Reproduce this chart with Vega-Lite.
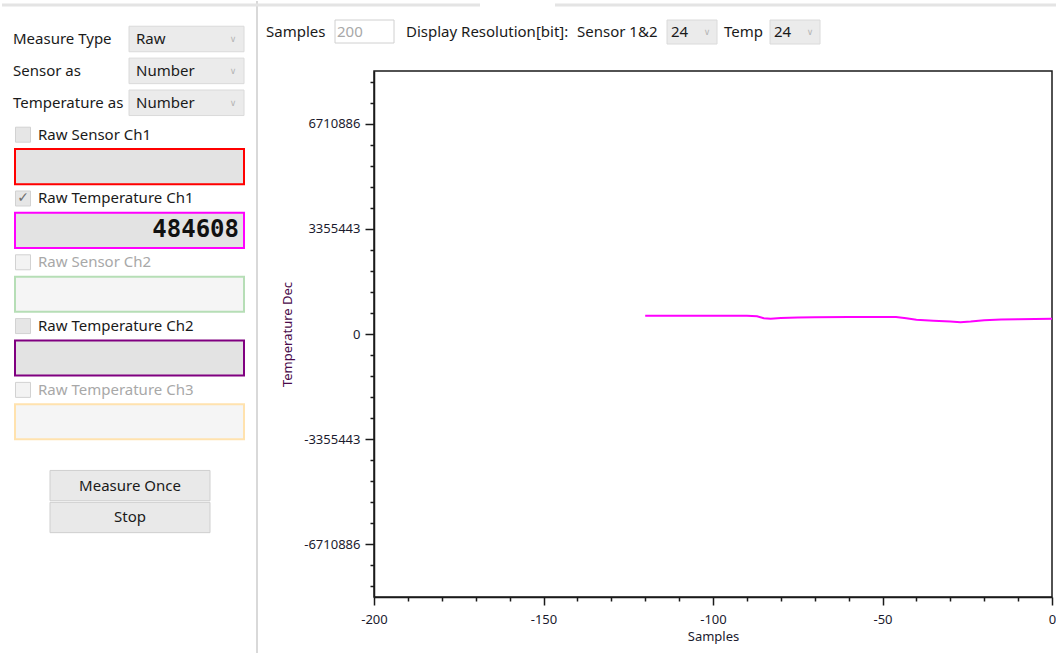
{
  "$schema": "https://vega.github.io/schema/vega-lite/v6.json",
  "background": "white",
  "padding": 0,
  "bounds": "flush",
  "spacing": 116,
  "config": {"view": {"stroke": null}, "font": "Noto Sans"},
  "datasets": {
    "widgets": [
      {"item": "r01", "kind": "select", "label": "Measure Type", "value": "Raw"},
      {"item": "r02", "kind": "select", "label": "Sensor as", "value": "Number"},
      {"item": "r03", "kind": "select", "label": "Temperature as", "value": "Number"},
      {"item": "r04", "kind": "check", "label": "Raw Sensor Ch1", "state": "enabled", "checked": false},
      {"item": "r05", "kind": "field", "channel": "Raw Sensor Ch1", "state": "enabled", "value": ""},
      {"item": "r06", "kind": "check", "label": "Raw Temperature Ch1", "state": "enabled", "checked": true},
      {"item": "r07", "kind": "field", "channel": "Raw Temperature Ch1", "state": "enabled", "value": "484608"},
      {"item": "r08", "kind": "check", "label": "Raw Sensor Ch2", "state": "disabled", "checked": false},
      {"item": "r09", "kind": "field", "channel": "Raw Sensor Ch2", "state": "disabled", "value": ""},
      {"item": "r10", "kind": "check", "label": "Raw Temperature Ch2", "state": "enabled", "checked": false},
      {"item": "r11", "kind": "field", "channel": "Raw Temperature Ch2", "state": "enabled", "value": ""},
      {"item": "r12", "kind": "check", "label": "Raw Temperature Ch3", "state": "disabled", "checked": false},
      {"item": "r13", "kind": "field", "channel": "Raw Temperature Ch3", "state": "disabled", "value": ""},
      {"item": "r15", "kind": "button", "label": "Measure Once"},
      {"item": "r16", "kind": "button", "label": "Stop"}
    ],
    "topbar": [
      {"name": "Samples", "setting": "200"},
      {"name": "Display Resolution[bit]:", "setting": ""},
      {"name": "Sensor 1&2", "setting": "24"},
      {"name": "Temp", "setting": "24"}
    ],
    "series": [
      {"sample": -120, "value": 580000},
      {"sample": -90, "value": 580000},
      {"sample": -87, "value": 565000},
      {"sample": -85, "value": 500000},
      {"sample": -83, "value": 485000},
      {"sample": -80, "value": 510000},
      {"sample": -75, "value": 530000},
      {"sample": -70, "value": 535000},
      {"sample": -60, "value": 540000},
      {"sample": -50, "value": 545000},
      {"sample": -46, "value": 545000},
      {"sample": -43, "value": 505000},
      {"sample": -40, "value": 455000},
      {"sample": -35, "value": 425000},
      {"sample": -30, "value": 400000},
      {"sample": -27, "value": 376000},
      {"sample": -24, "value": 395000},
      {"sample": -20, "value": 440000},
      {"sample": -15, "value": 462000},
      {"sample": -10, "value": 472000},
      {"sample": -5, "value": 478000},
      {"sample": 0, "value": 484608}
    ]
  },
  "hconcat": [
    {
      "width": 256,
      "height": 653,
      "data": {"name": "widgets"},
      "resolve": {"scale": {"fill": "independent", "color": "independent", "stroke": "independent"}},
      "layer": [
        {
          "data": {"values": [{}]},
          "mark": {"type": "rule", "color": "#d9d9d9", "strokeWidth": 2},
          "encoding": {"x": {"datum": 255, "type": "quantitative", "scale": {"domain": [0, 256]}, "axis": null}}
        },
        {
          "transform": [{"filter": "datum.kind === 'select'"}],
          "mark": {"type": "text", "align": "left", "baseline": "middle", "fontSize": 15, "color": "#1a1a1a"},
          "encoding": {
            "x": {"datum": 11, "type": "quantitative", "scale": {"domain": [0, 256]}, "axis": null},
            "y": {"field": "item", "type": "nominal", "scale": {"type": "band", "domain": ["r01","r02","r03","r04","r05","r06","r07","r08","r09","r10","r11","r12","r13","r14","r15","r16","r17","r18","r19"], "paddingInner": 0, "paddingOuter": 0.735, "align": 0.47}, "axis": null},
            "text": {"field": "label"}
          }
        },
        {
          "transform": [{"filter": "datum.kind === 'select'"}],
          "mark": {"type": "rect", "fill": "#ebebeb", "stroke": "#dadada", "strokeWidth": 1, "height": {"band": 0.8}},
          "encoding": {
            "x": {"datum": 127, "type": "quantitative", "scale": {"domain": [0, 256]}, "axis": null},
            "x2": {"datum": 242},
            "y": {"field": "item", "type": "nominal", "scale": {"type": "band", "domain": ["r01","r02","r03","r04","r05","r06","r07","r08","r09","r10","r11","r12","r13","r14","r15","r16","r17","r18","r19"], "paddingInner": 0, "paddingOuter": 0.735, "align": 0.47}, "axis": null}
          }
        },
        {
          "transform": [{"filter": "datum.kind === 'select'"}],
          "mark": {"type": "text", "align": "left", "baseline": "middle", "fontSize": 15, "color": "#1a1a1a"},
          "encoding": {
            "x": {"datum": 134, "type": "quantitative", "scale": {"domain": [0, 256]}, "axis": null},
            "y": {"field": "item", "type": "nominal", "scale": {"type": "band", "domain": ["r01","r02","r03","r04","r05","r06","r07","r08","r09","r10","r11","r12","r13","r14","r15","r16","r17","r18","r19"], "paddingInner": 0, "paddingOuter": 0.735, "align": 0.47}, "axis": null},
            "text": {"field": "value"}
          }
        },
        {
          "transform": [{"filter": "datum.kind === 'select'"}],
          "mark": {"type": "text", "align": "center", "baseline": "middle", "fontSize": 9, "font": "DejaVu Sans", "color": "#b5b5b5", "text": "∨"},
          "encoding": {
            "x": {"datum": 231, "type": "quantitative", "scale": {"domain": [0, 256]}, "axis": null},
            "y": {"field": "item", "type": "nominal", "scale": {"type": "band", "domain": ["r01","r02","r03","r04","r05","r06","r07","r08","r09","r10","r11","r12","r13","r14","r15","r16","r17","r18","r19"], "paddingInner": 0, "paddingOuter": 0.735, "align": 0.47}, "axis": null}
          }
        },
        {
          "transform": [{"filter": "datum.kind === 'check'"}],
          "mark": {"type": "point", "shape": "square", "size": 225, "filled": true, "stroke": "#d2d2d2", "strokeWidth": 1, "opacity": 1},
          "encoding": {
            "x": {"datum": 21, "type": "quantitative", "scale": {"domain": [0, 256]}, "axis": null},
            "y": {"field": "item", "type": "nominal", "scale": {"type": "band", "domain": ["r01","r02","r03","r04","r05","r06","r07","r08","r09","r10","r11","r12","r13","r14","r15","r16","r17","r18","r19"], "paddingInner": 0, "paddingOuter": 0.735, "align": 0.47}, "axis": null},
            "fill": {"field": "state", "type": "nominal", "scale": {"domain": ["enabled", "disabled"], "range": ["#e6e6e6", "#f3f3f3"]}, "legend": null}
          }
        },
        {
          "transform": [{"filter": "datum.checked === true"}],
          "mark": {"type": "text", "align": "center", "baseline": "middle", "fontSize": 14, "font": "DejaVu Sans", "color": "#6e6e6e", "text": "✓"},
          "encoding": {
            "x": {"datum": 21, "type": "quantitative", "scale": {"domain": [0, 256]}, "axis": null},
            "y": {"field": "item", "type": "nominal", "scale": {"type": "band", "domain": ["r01","r02","r03","r04","r05","r06","r07","r08","r09","r10","r11","r12","r13","r14","r15","r16","r17","r18","r19"], "paddingInner": 0, "paddingOuter": 0.735, "align": 0.47}, "axis": null}
          }
        },
        {
          "transform": [{"filter": "datum.kind === 'check'"}],
          "mark": {"type": "text", "align": "left", "baseline": "middle", "fontSize": 15},
          "encoding": {
            "x": {"datum": 36, "type": "quantitative", "scale": {"domain": [0, 256]}, "axis": null},
            "y": {"field": "item", "type": "nominal", "scale": {"type": "band", "domain": ["r01","r02","r03","r04","r05","r06","r07","r08","r09","r10","r11","r12","r13","r14","r15","r16","r17","r18","r19"], "paddingInner": 0, "paddingOuter": 0.735, "align": 0.47}, "axis": null},
            "text": {"field": "label"},
            "color": {"field": "state", "type": "nominal", "scale": {"domain": ["enabled", "disabled"], "range": ["#1a1a1a", "#a8a8a8"]}, "legend": null}
          }
        },
        {
          "transform": [{"filter": "datum.kind === 'field'"}],
          "mark": {"type": "rect", "strokeWidth": 2, "height": {"band": 1.1}},
          "encoding": {
            "x": {"datum": 13, "type": "quantitative", "scale": {"domain": [0, 256]}, "axis": null},
            "x2": {"datum": 242},
            "y": {"field": "item", "type": "nominal", "scale": {"type": "band", "domain": ["r01","r02","r03","r04","r05","r06","r07","r08","r09","r10","r11","r12","r13","r14","r15","r16","r17","r18","r19"], "paddingInner": 0, "paddingOuter": 0.735, "align": 0.47}, "axis": null},
            "fill": {"field": "state", "type": "nominal", "scale": {"domain": ["enabled", "disabled"], "range": ["#e3e3e3", "#f5f5f5"]}, "legend": null},
            "stroke": {"field": "channel", "type": "nominal", "scale": {"domain": ["Raw Sensor Ch1", "Raw Temperature Ch1", "Raw Sensor Ch2", "Raw Temperature Ch2", "Raw Temperature Ch3"], "range": ["#ff0000", "#ff00ff", "#b6deb6", "#800080", "#ffe2ae"]}, "legend": null}
          }
        },
        {
          "transform": [{"filter": "datum.kind === 'field'"}],
          "mark": {"type": "text", "align": "right", "baseline": "middle", "fontSize": 24, "font": "DejaVu Sans Mono", "fontWeight": "bold", "color": "#111111"},
          "encoding": {
            "x": {"datum": 237, "type": "quantitative", "scale": {"domain": [0, 256]}, "axis": null},
            "y": {"field": "item", "type": "nominal", "scale": {"type": "band", "domain": ["r01","r02","r03","r04","r05","r06","r07","r08","r09","r10","r11","r12","r13","r14","r15","r16","r17","r18","r19"], "paddingInner": 0, "paddingOuter": 0.735, "align": 0.47}, "axis": null},
            "text": {"field": "value"}
          }
        },
        {
          "transform": [{"filter": "datum.kind === 'button'"}],
          "mark": {"type": "rect", "fill": "#e9e9e9", "stroke": "#cfcfcf", "strokeWidth": 1, "height": {"band": 0.95}},
          "encoding": {
            "x": {"datum": 48, "type": "quantitative", "scale": {"domain": [0, 256]}, "axis": null},
            "x2": {"datum": 208},
            "y": {"field": "item", "type": "nominal", "scale": {"type": "band", "domain": ["r01","r02","r03","r04","r05","r06","r07","r08","r09","r10","r11","r12","r13","r14","r15","r16","r17","r18","r19"], "paddingInner": 0, "paddingOuter": 0.735, "align": 0.47}, "axis": null}
          }
        },
        {
          "transform": [{"filter": "datum.kind === 'button'"}],
          "mark": {"type": "text", "align": "center", "baseline": "middle", "fontSize": 15, "color": "#1a1a1a"},
          "encoding": {
            "x": {"datum": 128, "type": "quantitative", "scale": {"domain": [0, 256]}, "axis": null},
            "y": {"field": "item", "type": "nominal", "scale": {"type": "band", "domain": ["r01","r02","r03","r04","r05","r06","r07","r08","r09","r10","r11","r12","r13","r14","r15","r16","r17","r18","r19"], "paddingInner": 0, "paddingOuter": 0.735, "align": 0.47}, "axis": null},
            "text": {"field": "label"}
          }
        }
      ]
    },
    {
      "bounds": "flush",
      "spacing": 8,
      "vconcat": [
        {
          "width": 678,
          "height": 62,
          "data": {"name": "topbar"},
          "layer": [
            {
              "transform": [{"filter": "datum.name === 'Samples'"}],
              "mark": {"type": "rule", "color": "#e4e4e4", "strokeWidth": 3},
              "encoding": {
                "x": {"datum": 0, "type": "quantitative", "scale": {"domain": [372, 1050]}, "axis": null},
                "x2": {"datum": 478},
                "y": {"datum": 4, "type": "quantitative", "scale": {"domain": [0, 62], "reverse": true}, "axis": null}
              }
            },
            {
              "transform": [{"filter": "datum.name === 'Samples'"}],
              "mark": {"type": "rule", "color": "#e4e4e4", "strokeWidth": 3},
              "encoding": {
                "x": {"datum": 553, "type": "quantitative", "scale": {"domain": [372, 1050]}, "axis": null},
                "x2": {"datum": 1056},
                "y": {"datum": 4, "type": "quantitative", "scale": {"domain": [0, 62], "reverse": true}, "axis": null}
              }
            },
            {
              "transform": [{"filter": "datum.name === 'Samples'"}],
              "mark": {"type": "text", "align": "left", "baseline": "middle", "fontSize": 15, "color": "#1a1a1a"},
              "encoding": {
                "x": {"datum": 264, "type": "quantitative", "scale": {"domain": [372, 1050]}, "axis": null},
                "y": {"datum": 31, "type": "quantitative", "scale": {"domain": [0, 62], "reverse": true}, "axis": null},
                "text": {"field": "name"}
              }
            },
            {
              "transform": [{"filter": "datum.name === 'Samples'"}],
              "mark": {"type": "rect", "fill": "white", "stroke": "#d0d0d0", "strokeWidth": 1},
              "encoding": {
                "x": {"datum": 333, "type": "quantitative", "scale": {"domain": [372, 1050]}, "axis": null},
                "x2": {"datum": 392},
                "y": {"datum": 19, "type": "quantitative", "scale": {"domain": [0, 62], "reverse": true}, "axis": null},
                "y2": {"datum": 42}
              }
            },
            {
              "transform": [{"filter": "datum.name === 'Samples'"}],
              "mark": {"type": "text", "align": "left", "baseline": "middle", "fontSize": 15, "color": "#a8a8a8"},
              "encoding": {
                "x": {"datum": 335, "type": "quantitative", "scale": {"domain": [372, 1050]}, "axis": null},
                "y": {"datum": 31, "type": "quantitative", "scale": {"domain": [0, 62], "reverse": true}, "axis": null},
                "text": {"field": "setting"}
              }
            },
            {
              "transform": [{"filter": "datum.name === 'Display Resolution[bit]:'"}],
              "mark": {"type": "text", "align": "left", "baseline": "middle", "fontSize": 15, "color": "#1a1a1a"},
              "encoding": {
                "x": {"datum": 404, "type": "quantitative", "scale": {"domain": [372, 1050]}, "axis": null},
                "y": {"datum": 31, "type": "quantitative", "scale": {"domain": [0, 62], "reverse": true}, "axis": null},
                "text": {"field": "name"}
              }
            },
            {
              "transform": [{"filter": "datum.name === 'Sensor 1&2'"}],
              "mark": {"type": "text", "align": "left", "baseline": "middle", "fontSize": 15, "color": "#1a1a1a"},
              "encoding": {
                "x": {"datum": 575, "type": "quantitative", "scale": {"domain": [372, 1050]}, "axis": null},
                "y": {"datum": 31, "type": "quantitative", "scale": {"domain": [0, 62], "reverse": true}, "axis": null},
                "text": {"field": "name"}
              }
            },
            {
              "transform": [{"filter": "datum.name === 'Sensor 1&2'"}],
              "mark": {"type": "rect", "fill": "#ebebeb", "stroke": "#dadada", "strokeWidth": 1},
              "encoding": {
                "x": {"datum": 665, "type": "quantitative", "scale": {"domain": [372, 1050]}, "axis": null},
                "x2": {"datum": 715},
                "y": {"datum": 19, "type": "quantitative", "scale": {"domain": [0, 62], "reverse": true}, "axis": null},
                "y2": {"datum": 43}
              }
            },
            {
              "transform": [{"filter": "datum.name === 'Sensor 1&2'"}],
              "mark": {"type": "text", "align": "left", "baseline": "middle", "fontSize": 15, "color": "#1a1a1a"},
              "encoding": {
                "x": {"datum": 669, "type": "quantitative", "scale": {"domain": [372, 1050]}, "axis": null},
                "y": {"datum": 31, "type": "quantitative", "scale": {"domain": [0, 62], "reverse": true}, "axis": null},
                "text": {"field": "setting"}
              }
            },
            {
              "transform": [{"filter": "datum.name === 'Sensor 1&2'"}],
              "mark": {"type": "text", "align": "center", "baseline": "middle", "fontSize": 9, "font": "DejaVu Sans", "color": "#b5b5b5", "text": "∨"},
              "encoding": {
                "x": {"datum": 705, "type": "quantitative", "scale": {"domain": [372, 1050]}, "axis": null},
                "y": {"datum": 31, "type": "quantitative", "scale": {"domain": [0, 62], "reverse": true}, "axis": null}
              }
            },
            {
              "transform": [{"filter": "datum.name === 'Temp'"}],
              "mark": {"type": "text", "align": "left", "baseline": "middle", "fontSize": 15, "color": "#1a1a1a"},
              "encoding": {
                "x": {"datum": 722, "type": "quantitative", "scale": {"domain": [372, 1050]}, "axis": null},
                "y": {"datum": 31, "type": "quantitative", "scale": {"domain": [0, 62], "reverse": true}, "axis": null},
                "text": {"field": "name"}
              }
            },
            {
              "transform": [{"filter": "datum.name === 'Temp'"}],
              "mark": {"type": "rect", "fill": "#ebebeb", "stroke": "#dadada", "strokeWidth": 1},
              "encoding": {
                "x": {"datum": 768, "type": "quantitative", "scale": {"domain": [372, 1050]}, "axis": null},
                "x2": {"datum": 818},
                "y": {"datum": 19, "type": "quantitative", "scale": {"domain": [0, 62], "reverse": true}, "axis": null},
                "y2": {"datum": 43}
              }
            },
            {
              "transform": [{"filter": "datum.name === 'Temp'"}],
              "mark": {"type": "text", "align": "left", "baseline": "middle", "fontSize": 15, "color": "#1a1a1a"},
              "encoding": {
                "x": {"datum": 772, "type": "quantitative", "scale": {"domain": [372, 1050]}, "axis": null},
                "y": {"datum": 31, "type": "quantitative", "scale": {"domain": [0, 62], "reverse": true}, "axis": null},
                "text": {"field": "setting"}
              }
            },
            {
              "transform": [{"filter": "datum.name === 'Temp'"}],
              "mark": {"type": "text", "align": "center", "baseline": "middle", "fontSize": 9, "font": "DejaVu Sans", "color": "#b5b5b5", "text": "∨"},
              "encoding": {
                "x": {"datum": 808, "type": "quantitative", "scale": {"domain": [372, 1050]}, "axis": null},
                "y": {"datum": 31, "type": "quantitative", "scale": {"domain": [0, 62], "reverse": true}, "axis": null}
              }
            }
          ]
        },
        {
          "width": 678,
          "height": 526,
          "data": {"name": "series"},
          "view": {"stroke": "#1a1a1a", "strokeWidth": 1.5},
          "mark": {"type": "line", "color": "#ff00ff", "strokeWidth": 2},
          "encoding": {
            "x": {
              "field": "sample", "type": "quantitative",
              "scale": {"domain": [-200, 0], "nice": false, "zero": false},
              "axis": {
                "title": "Samples",
                "values": [-200,-190,-180,-170,-160,-150,-140,-130,-120,-110,-100,-90,-80,-70,-60,-50,-40,-30,-20,-10,0],
                "labelExpr": "datum.value % 50 === 0 ? '' + datum.value : ''",
                "tickSize": {"condition": {"test": "datum.value % 50 === 0", "value": 8}, "value": 4},
                "grid": false,
                "labelFontSize": 13, "labelColor": "#1b1b2e", "labelPadding": 8, "labelFlush": false, "labelOverlap": false,
                "domainColor": "#1a1a1a", "domainWidth": 1.5, "tickColor": "#1a1a1a", "tickWidth": 1.5,
                "titleFontSize": 13, "titleFontWeight": "normal", "titleColor": "#1b1b2e", "titlePadding": 4
              }
            },
            "y": {
              "field": "value", "type": "quantitative",
              "scale": {"domain": [-8388608, 8388608], "nice": false, "zero": false},
              "axis": {
                "title": "Temperature Dec",
                "values": [-8053063.2,-7381974.6,-6710886,-6039797.4,-5368708.8,-4697620.2,-4026531.6,-3355443,-2684354.4,-2013265.8,-1342177.2,-671088.6,0,671088.6,1342177.2,2013265.8,2684354.4,3355443,4026531.6,4697620.2,5368708.8,6039797.4,6710886,7381974.6,8053063.2],
                "labelExpr": "datum.value % 3355443 === 0 ? '' + datum.value : ''",
                "tickSize": {"condition": {"test": "datum.value % 3355443 === 0", "value": 9}, "value": 4},
                "grid": false,
                "labelFontSize": 13, "labelColor": "#1b1b2e", "labelPadding": 5, "labelOverlap": false, "labelFlush": false,
                "domainColor": "#1a1a1a", "domainWidth": 1.5, "tickColor": "#1a1a1a", "tickWidth": 1.5,
                "titleFontSize": 13, "titleFontWeight": "normal", "titleColor": "#4a0a4a", "titlePadding": 9
              }
            }
          }
        }
      ]
    }
  ]
}
